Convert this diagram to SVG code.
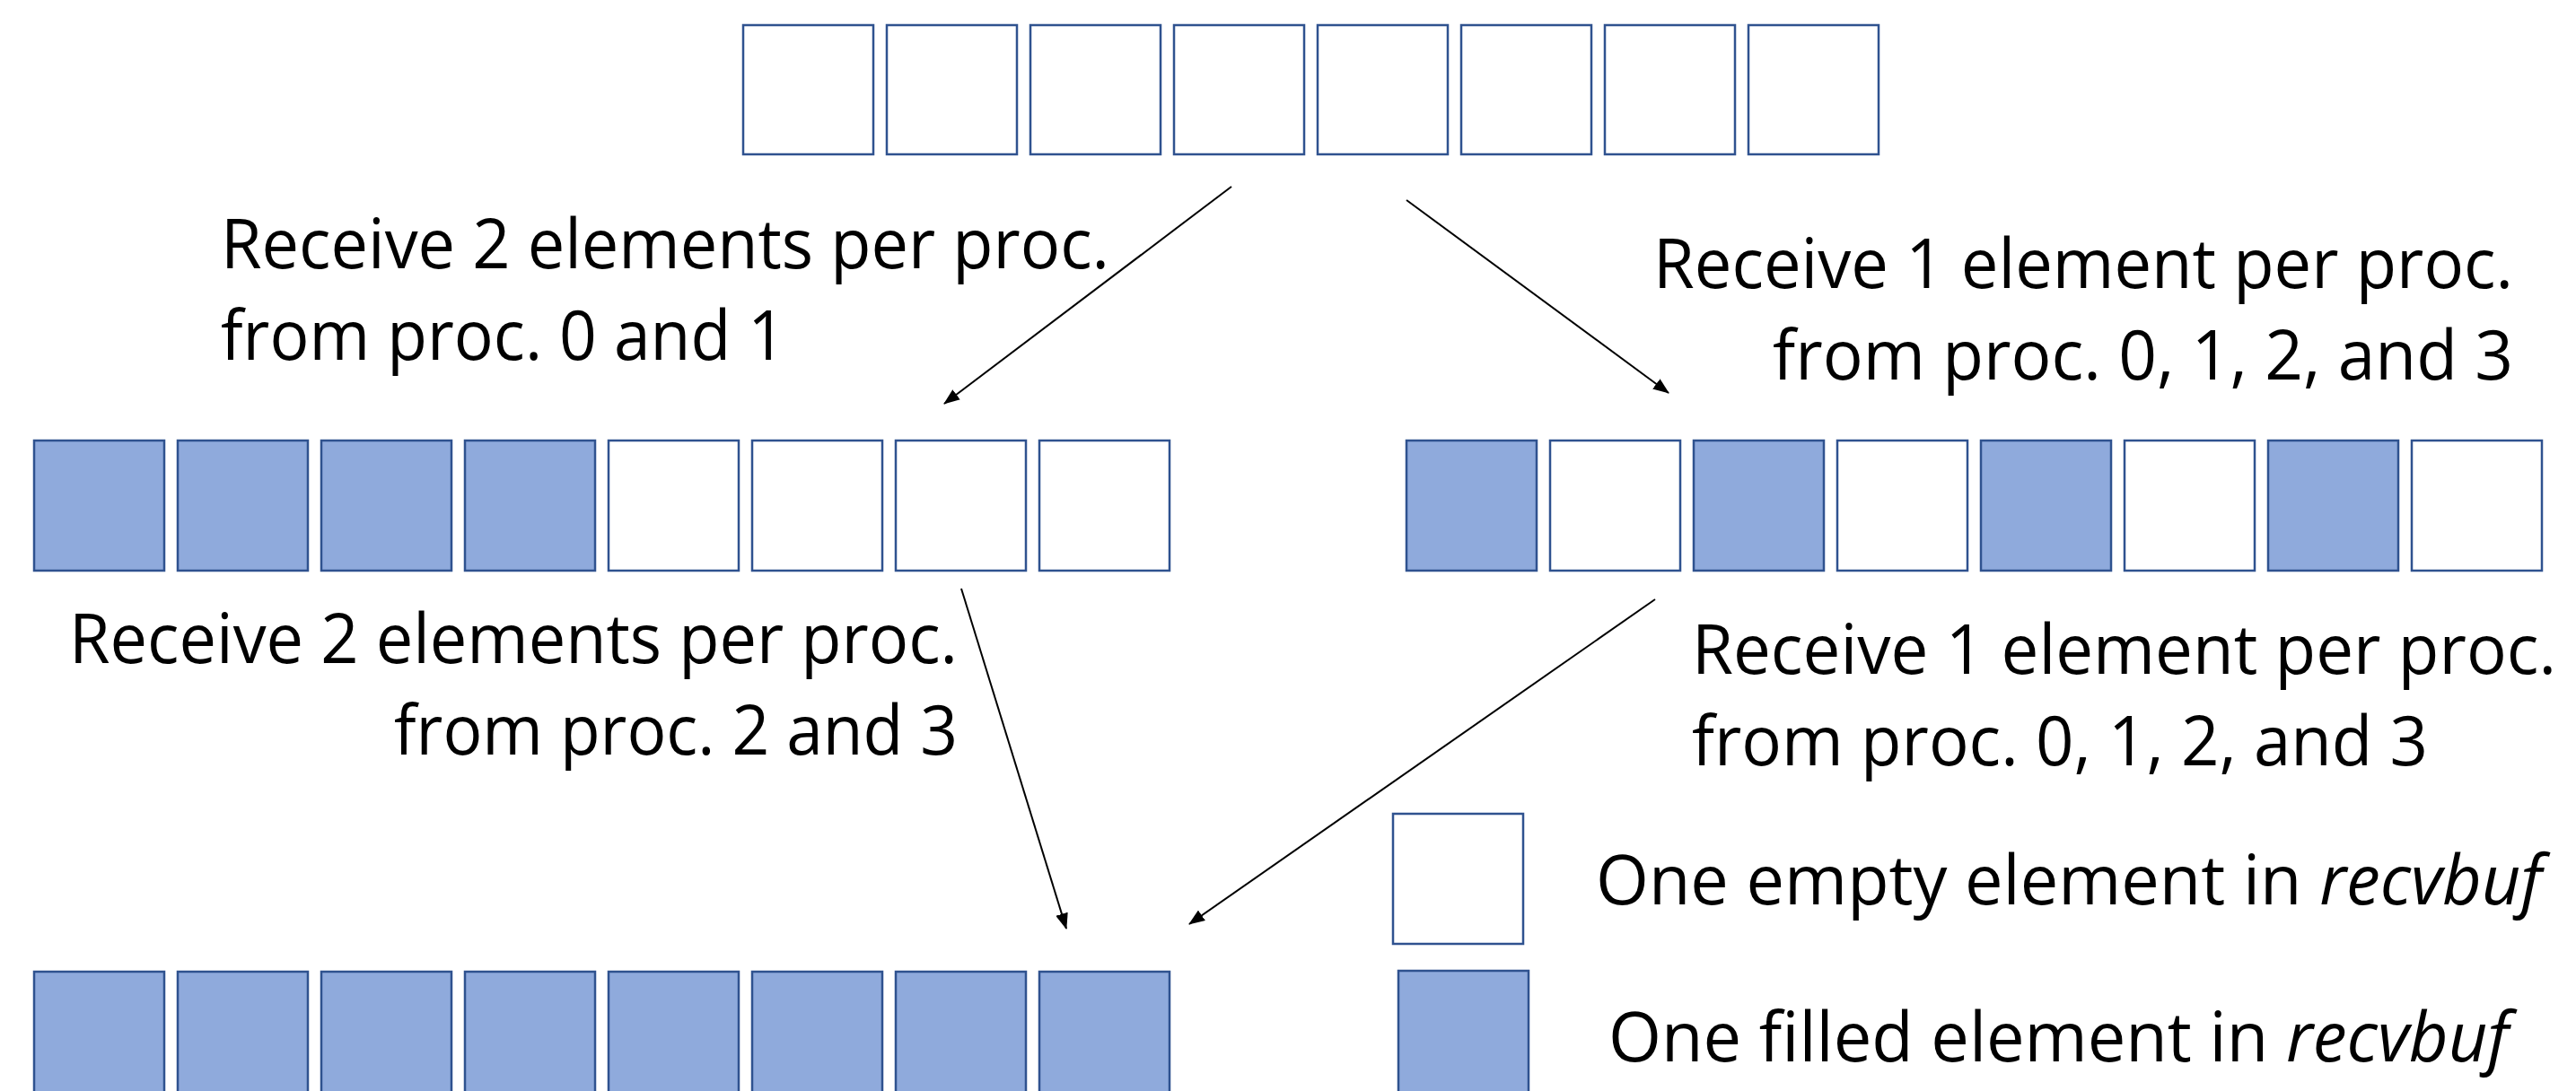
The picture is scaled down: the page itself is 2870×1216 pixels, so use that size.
<svg xmlns="http://www.w3.org/2000/svg" width="2870" height="1216" viewBox="0 0 2870 1216">
<style>
.e{fill:#FFFFFF;stroke:#2F528F;stroke-width:2.5}
.f{fill:#8FAADC;stroke:#2F528F;stroke-width:2.5}
.t{font-family:"Open Sans","Noto Sans","Liberation Sans",sans-serif;font-size:76px;fill:#000000}
.c{stroke:#000000;stroke-width:2;fill:none;marker-end:url(#ah)}
</style>
<defs>
<marker id="ah" viewBox="0 0 18 14" refX="17" refY="7" markerWidth="18" markerHeight="14" markerUnits="userSpaceOnUse" orient="auto">
<path d="M0,0 L18,7 L0,14 Z" fill="#000000"/>
</marker>
</defs>
<rect width="2870" height="1216" fill="#FFFFFF"/>
<g id="top-row">
<rect class="e" x="828" y="28" width="145" height="144"/>
<rect class="e" x="988" y="28" width="145" height="144"/>
<rect class="e" x="1148" y="28" width="145" height="144"/>
<rect class="e" x="1308" y="28" width="145" height="144"/>
<rect class="e" x="1468" y="28" width="145" height="144"/>
<rect class="e" x="1628" y="28" width="145" height="144"/>
<rect class="e" x="1788" y="28" width="145" height="144"/>
<rect class="e" x="1948" y="28" width="145" height="144"/>
</g>
<g id="mid-left-row">
<rect class="f" x="38" y="491" width="145" height="145"/>
<rect class="f" x="198" y="491" width="145" height="145"/>
<rect class="f" x="358" y="491" width="145" height="145"/>
<rect class="f" x="518" y="491" width="145" height="145"/>
<rect class="e" x="678" y="491" width="145" height="145"/>
<rect class="e" x="838" y="491" width="145" height="145"/>
<rect class="e" x="998" y="491" width="145" height="145"/>
<rect class="e" x="1158" y="491" width="145" height="145"/>
</g>
<g id="mid-right-row">
<rect class="f" x="1567" y="491" width="145" height="145"/>
<rect class="e" x="1727" y="491" width="145" height="145"/>
<rect class="f" x="1887" y="491" width="145" height="145"/>
<rect class="e" x="2047" y="491" width="145" height="145"/>
<rect class="f" x="2207" y="491" width="145" height="145"/>
<rect class="e" x="2367" y="491" width="145" height="145"/>
<rect class="f" x="2527" y="491" width="145" height="145"/>
<rect class="e" x="2687" y="491" width="145" height="145"/>
</g>
<g id="bottom-row">
<rect class="f" x="38" y="1083" width="145" height="145"/>
<rect class="f" x="198" y="1083" width="145" height="145"/>
<rect class="f" x="358" y="1083" width="145" height="145"/>
<rect class="f" x="518" y="1083" width="145" height="145"/>
<rect class="f" x="678" y="1083" width="145" height="145"/>
<rect class="f" x="838" y="1083" width="145" height="145"/>
<rect class="f" x="998" y="1083" width="145" height="145"/>
<rect class="f" x="1158" y="1083" width="145" height="145"/>
</g>
<g id="label-top-left">
<text class="t" x="246" y="299" textLength="990" lengthAdjust="spacingAndGlyphs">Receive 2 elements per proc.</text>
<text class="t" x="246" y="401" textLength="629" lengthAdjust="spacingAndGlyphs">from proc. 0 and 1</text>
</g>
<g id="label-top-right">
<text class="t" x="1842" y="321" textLength="958" lengthAdjust="spacingAndGlyphs">Receive 1 element per proc.</text>
<text class="t" x="1975" y="423" textLength="825" lengthAdjust="spacingAndGlyphs">from proc. 0, 1, 2, and 3</text>
</g>
<g id="label-mid-left">
<text class="t" x="77" y="739" textLength="990" lengthAdjust="spacingAndGlyphs">Receive 2 elements per proc.</text>
<text class="t" x="439" y="841" textLength="628" lengthAdjust="spacingAndGlyphs">from proc. 2 and 3</text>
</g>
<g id="label-mid-right">
<text class="t" x="1885" y="751" textLength="963" lengthAdjust="spacingAndGlyphs">Receive 1 element per proc.</text>
<text class="t" x="1885" y="853" textLength="820" lengthAdjust="spacingAndGlyphs">from proc. 0, 1, 2, and 3</text>
</g>
<g id="legend-empty">
<rect class="e" x="1552" y="907" width="145" height="145"/>
<text class="t" x="1778" y="1008" textLength="1054" lengthAdjust="spacingAndGlyphs">One empty element in <tspan font-style="italic">recvbuf</tspan></text>
</g>
<g id="legend-filled">
<rect class="f" x="1558" y="1082" width="145" height="145"/>
<text class="t" x="1792" y="1183" textLength="1003" lengthAdjust="spacingAndGlyphs">One filled element in <tspan font-style="italic">recvbuf</tspan></text>
</g>
<g id="connectors">
<line class="c" x1="1372" y1="208" x2="1052" y2="450"/>
<line class="c" x1="1567" y1="223" x2="1859" y2="438"/>
<line class="c" x1="1071" y1="656" x2="1188" y2="1035"/>
<line class="c" x1="1844" y1="668" x2="1325" y2="1030"/>
</g>
</svg>
